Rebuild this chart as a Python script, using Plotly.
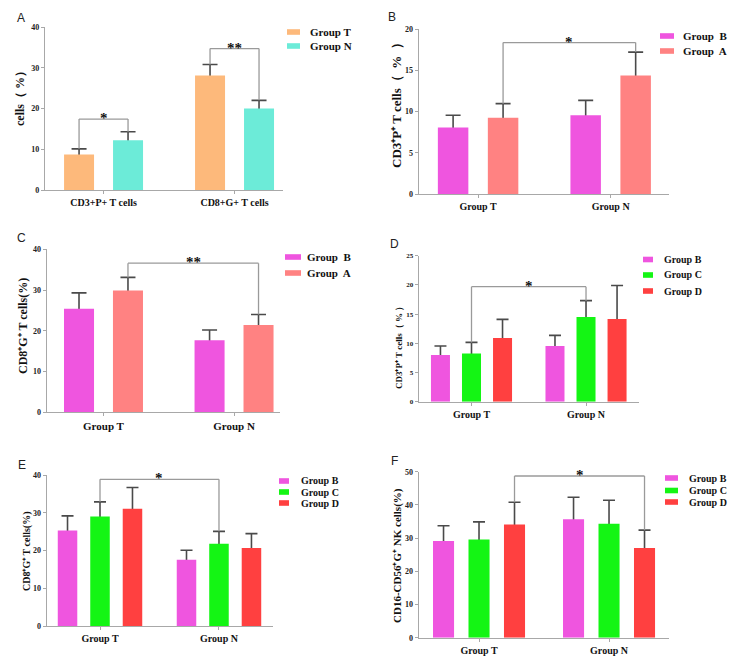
import plotly.graph_objects as go

W, H = 744, 665

# ---------------- data ----------------
cats_A = ["CD3+P+ T cells", "CD8+G+ T cells"]
cats_TN = ["Group T", "Group N"]

A_T_mean = [8.7, 28.1];   A_T_sd = [1.4, 2.7]
A_N_mean = [12.2, 20.0];  A_N_sd = [2.1, 2.0]

B_B_mean = [8.05, 9.55];  B_B_sd = [1.5, 1.8]
B_A_mean = [9.25, 14.35]; B_A_sd = [1.7, 2.85]

C_B_mean = [25.4, 17.7];  C_B_sd = [3.9, 2.5]
C_A_mean = [29.9, 21.4];  C_A_sd = [3.2, 2.6]

D_B_mean = [8.0, 9.55];   D_B_sd = [1.55, 1.8]
D_C_mean = [8.25, 14.5];  D_C_sd = [1.9, 2.8]
D_D_mean = [10.9, 14.15]; D_D_sd = [3.2, 5.75]

E_B_mean = [25.3, 17.6];  E_B_sd = [3.9, 2.5]
E_C_mean = [29.0, 21.8];  E_C_sd = [3.9, 3.3]
E_D_mean = [31.1, 20.7];  E_D_sd = [5.6, 3.8]

F_B_mean = [29.1, 35.7];  F_B_sd = [4.6, 6.6]
F_C_mean = [29.6, 34.3];  F_C_sd = [5.3, 7.1]
F_D_mean = [34.1, 27.0];  F_D_sd = [6.7, 5.4]

# significance brackets: (from category, from series, to category, to series, bracket level, label)
A_sig = [(0, 0, 0, 1, 17.4, "*"), (1, 0, 1, 1, 34.7, "**")]
B_sig = [(0, 1, 1, 1, 18.35, "*")]
C_sig = [(0, 1, 1, 1, 36.6, "**")]
D_sig = [(0, 1, 1, 1, 19.7, "*")]
E_sig = [(0, 1, 1, 1, 38.85, "*")]
F_sig = [(0, 2, 1, 2, 48.7, "*")]

# ---------------- styles ----------------
COL_T = "#FDB97B"
COL_N = "#6CEBD8"
COL_B = "#EF55DF"
COL_A = "#FF8282"
COL_C = "#14F514"
COL_D = "#FF4040"

SERIF = "Liberation Serif"
SANS = "Liberation Sans"
AXIS_COL = "#A8A8A8"
ERR_COL = "#4A4A4A"
BRK_COL = "#9A9A9A"
WIDE = "（\u2002%\u2002）"

panels = [
    dict(letter="A", cats=cats_A, ymax=40, dtick=10,
         series=[("Group T", A_T_mean, A_T_sd, COL_T), ("Group N", A_N_mean, A_N_sd, COL_N)],
         sig=A_sig, ytitle="cells（ %）",
         dom_x=(45, 283), dom_y=(27, 190), xr=(-0.447, 1.370), bw=0.229, step=0.374, cap=7.5,
         tickfs=8, xfs=10, titlefs=12, title_xy=(20, 96), letter_xy=(21, 18),
         leg_sw=(287, 300), leg_tx=308, leg_y=[32, 46], legfs=11),
    dict(letter="B", cats=cats_TN, ymax=20, dtick=5,
         series=[("Group\u00a0 B", B_B_mean, B_B_sd, COL_B), ("Group\u00a0 A", B_A_mean, B_A_sd, COL_A)],
         sig=B_sig, ytitle="CD3⁺P⁺ T cells" + WIDE,
         dom_x=(418.7, 669), dom_y=(29, 194), xr=(-0.448, 1.44), bw=0.23, step=0.377, cap=7.5,
         tickfs=8, xfs=10, titlefs=13, title_xy=(397, 102), letter_xy=(392, 17),
         leg_sw=(660, 674), leg_tx=681, leg_y=[36, 51], legfs=11),
    dict(letter="C", cats=cats_TN, ymax=40, dtick=10,
         series=[("Group\u00a0 B", C_B_mean, C_B_sd, COL_B), ("Group\u00a0 A", C_A_mean, C_A_sd, COL_A)],
         sig=C_sig, ytitle="CD8⁺G⁺ T cells(%)",
         dom_x=(46.7, 280), dom_y=(249.3, 412.3), xr=(-0.435, 1.352), bw=0.23, step=0.375, cap=7.5,
         tickfs=8, xfs=11, titlefs=12, title_xy=(23, 326), letter_xy=(21, 238),
         leg_sw=(285, 301), leg_tx=305, leg_y=[257, 273], legfs=11),
    dict(letter="D", cats=cats_TN, ymax=25, dtick=5,
         series=[("Group B", D_B_mean, D_B_sd, COL_B), ("Group C", D_C_mean, D_C_sd, COL_C),
                 ("Group D", D_D_mean, D_D_sd, COL_D)],
         sig=D_sig, ytitle="CD3⁺P⁺ T cells（ % ）",
         dom_x=(418.7, 638.7), dom_y=(255.7, 401.7), xr=(-0.461, 1.46), bw=0.166, step=0.271, cap=6,
         tickfs=7, xfs=10, titlefs=9, title_xy=(399, 346), letter_xy=(394, 244),
         leg_sw=(643, 653), leg_tx=662, leg_y=[259.5, 275, 291], legfs=10),
    dict(letter="E", cats=cats_TN, ymax=40, dtick=10,
         series=[("Group B", E_B_mean, E_B_sd, COL_B), ("Group C", E_C_mean, E_C_sd, COL_C),
                 ("Group D", E_D_mean, E_D_sd, COL_D)],
         sig=E_sig, ytitle="CD8⁺G⁺ T cells(%)",
         dom_x=(46.7, 273), dom_y=(475, 626.3), xr=(-0.448, 1.454), bw=0.164, step=0.273, cap=6,
         tickfs=8, xfs=10, titlefs=10, title_xy=(27, 551), letter_xy=(22, 465),
         leg_sw=(279, 289), leg_tx=299, leg_y=[481, 492, 503], legfs=10),
    dict(letter="F", cats=cats_TN, ymax=50, dtick=10,
         series=[("Group B", F_B_mean, F_B_sd, COL_B), ("Group C", F_C_mean, F_C_sd, COL_C),
                 ("Group D", F_D_mean, F_D_sd, COL_D)],
         sig=F_sig, ytitle="CD16-CD56⁺G⁺ NK cells(%)",
         dom_x=(418.7, 668.7), dom_y=(471.7, 637.7), xr=(-0.464, 1.459), bw=0.162, step=0.273, cap=6,
         tickfs=8, xfs=10, titlefs=11, title_xy=(397, 556), letter_xy=(394, 461),
         leg_sw=(665, 678), leg_tx=687, leg_y=[478, 490.5, 502], legfs=10),
]


def px(x):
    return x / W


def py(y):
    return 1 - y / H


fig = go.Figure()
layout = dict(width=W, height=H, margin=dict(l=0, r=0, t=0, b=0), autosize=False,
              paper_bgcolor="white", plot_bgcolor="white", template="none",
              showlegend=False, barmode="overlay")
shapes = []
annotations = []

for i, p in enumerate(panels, start=1):
    xa = "x" if i == 1 else f"x{i}"
    ya = "y" if i == 1 else f"y{i}"
    xk = "xaxis" if i == 1 else f"xaxis{i}"
    yk = "yaxis" if i == 1 else f"yaxis{i}"
    n = len(p["series"])
    xpos = list(range(len(p["cats"])))

    def center(cat, s):
        return cat + (s - (n - 1) / 2) * p["step"]

    for s, (name, mean, sd, col) in enumerate(p["series"]):
        off = (s - (n - 1) / 2) * p["step"] - p["bw"] / 2
        # error bar (lower half hidden behind the bar drawn afterwards)
        fig.add_trace(go.Bar(x=xpos, y=mean, width=p["bw"], offset=off, xaxis=xa, yaxis=ya,
                             marker=dict(color="rgba(0,0,0,0)", line=dict(width=0)),
                             error_y=dict(type="data", array=sd, symmetric=True, color=ERR_COL,
                                          thickness=1.6, width=p["cap"]),
                             hoverinfo="skip", name=name))
        fig.add_trace(go.Bar(x=xpos, y=mean, width=p["bw"], offset=off, xaxis=xa, yaxis=ya,
                             marker=dict(color=col, line=dict(width=0)), name=name))

    layout[xk] = dict(domain=[px(p["dom_x"][0]), px(p["dom_x"][1])], anchor=ya,
                      range=list(p["xr"]), tickmode="array", tickvals=xpos, ticktext=p["cats"],
                      showline=True, linecolor=AXIS_COL, linewidth=1.2, ticks="outside",
                      ticklen=3, tickcolor=AXIS_COL, showgrid=False, zeroline=False,
                      tickfont=dict(family=SERIF, size=p["xfs"], color="#111", weight="bold"),
                      fixedrange=True)
    layout[yk] = dict(domain=[py(p["dom_y"][1]), py(p["dom_y"][0])], anchor=xa,
                      range=[0, p["ymax"]], tick0=0, dtick=p["dtick"],
                      showline=True, linecolor=AXIS_COL, linewidth=1.2, ticks="outside",
                      ticklen=3, tickcolor=AXIS_COL, showgrid=False, zeroline=False,
                      tickfont=dict(family=SERIF, size=p["tickfs"], color="#222", weight="bold"),
                      fixedrange=True)

    # significance brackets
    for (c1, s1, c2, s2, lvl, lab) in p["sig"]:
        x1 = center(c1, s1)
        x2 = center(c2, s2)
        y1 = p["series"][s1][1][c1] + p["series"][s1][2][c1]
        y2 = p["series"][s2][1][c2] + p["series"][s2][2][c2]
        ln = dict(color=BRK_COL, width=1.3)
        shapes.append(dict(type="line", xref=xa, yref=ya, x0=x1, x1=x1, y0=y1, y1=lvl, line=ln))
        shapes.append(dict(type="line", xref=xa, yref=ya, x0=x1, x1=x2, y0=lvl, y1=lvl, line=ln))
        shapes.append(dict(type="line", xref=xa, yref=ya, x0=x2, x1=x2, y0=lvl, y1=y2, line=ln))
        annotations.append(dict(x=(x1 + x2) / 2, y=lvl, xref=xa, yref=ya, text=lab,
                                showarrow=False, xanchor="center", yanchor="middle", yshift=1,
                                font=dict(family=SERIF, size=15, color="#111", weight="bold")))

    # y-axis title
    annotations.append(dict(x=px(p["title_xy"][0]), y=py(p["title_xy"][1]), xref="paper", yref="paper",
                            text=p["ytitle"], textangle=-90, showarrow=False,
                            xanchor="center", yanchor="middle",
                            font=dict(family=SERIF, size=p["titlefs"], color="#111", weight="bold")))
    # panel letter
    annotations.append(dict(x=px(p["letter_xy"][0]), y=py(p["letter_xy"][1]), xref="paper", yref="paper",
                            text=p["letter"], showarrow=False, xanchor="center", yanchor="middle",
                            font=dict(family=SANS, size=12, color="#222")))
    # legend
    for (name, mean, sd, col), ly in zip(p["series"], p["leg_y"]):
        shapes.append(dict(type="rect", xref="paper", yref="paper",
                           x0=px(p["leg_sw"][0]), x1=px(p["leg_sw"][1]),
                           y0=py(ly + 2.8), y1=py(ly - 2.8), fillcolor=col, line=dict(width=0)))
        annotations.append(dict(x=px(p["leg_tx"]), y=py(ly), xref="paper", yref="paper",
                                text=name, showarrow=False,
                                xanchor="left", yanchor="middle",
                                font=dict(family=SERIF, size=p["legfs"], color="#111", weight="bold")))

layout["shapes"] = shapes
layout["annotations"] = annotations
fig.update_layout(**layout)
fig.write_html("out.html")
